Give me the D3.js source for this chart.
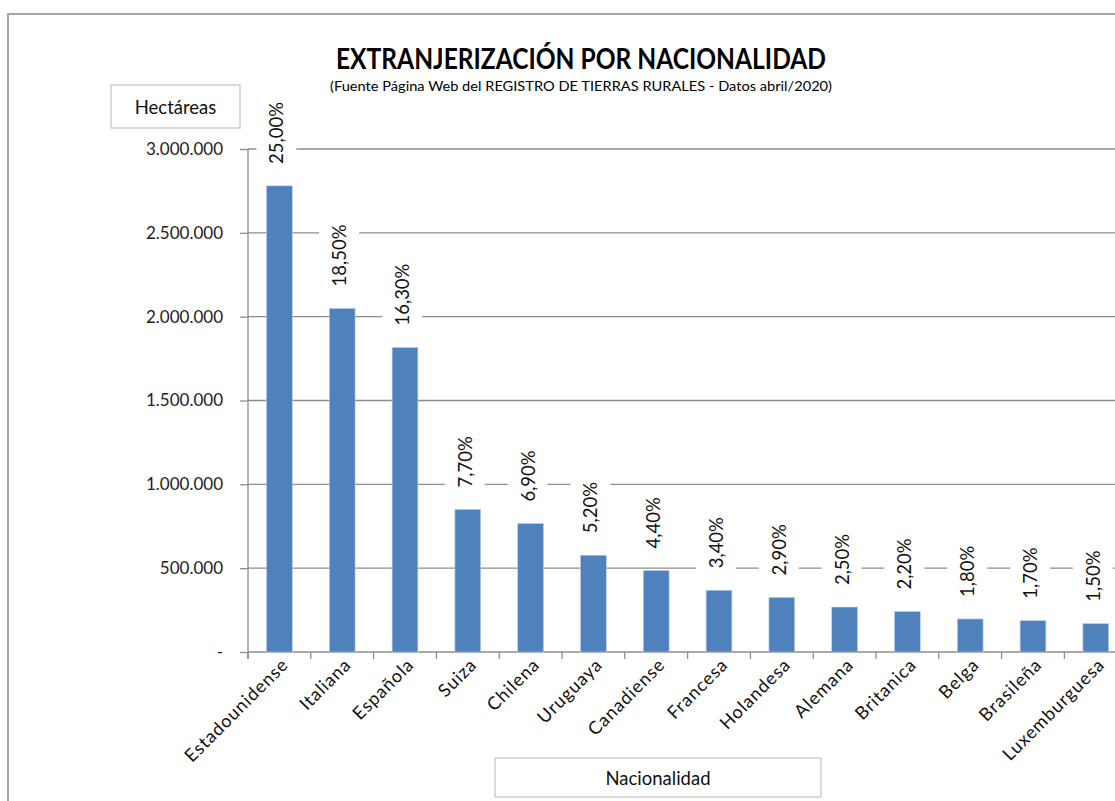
<!DOCTYPE html>
<html>
<head>
<meta charset="utf-8">
<script src="https://cdn.jsdelivr.net/npm/d3@7"></script>
<style>
  body { margin: 0; background: #fff; }
  svg { display: block; font-family: Lato, "Liberation Sans", sans-serif; }
</style>
</head>
<body>
<svg id="chart" width="1115" height="801"></svg>
<script>
// data
const categories = ['Estadounidense', 'Italiana', 'Española', 'Suiza', 'Chilena', 'Uruguaya',
  'Canadiense', 'Francesa', 'Holandesa', 'Alemana', 'Britanica', 'Belga', 'Brasileña', 'Luxemburguesa'];
const hectares = [2780000, 2049000, 1816000, 850000, 766000, 577000,
  486000, 368000, 325000, 268000, 241000, 197000, 187000, 169000];
const shares = ['25,00%', '18,50%', '16,30%', '7,70%', '6,90%', '5,20%',
  '4,40%', '3,40%', '2,90%', '2,50%', '2,20%', '1,80%', '1,70%', '1,50%'];
const yTicks = [0, 500000, 1000000, 1500000, 2000000, 2500000, 3000000];

const title = 'EXTRANJERIZACIÓN POR NACIONALIDAD';
const subtitle = '(Fuente Página Web del REGISTRO DE TIERRAS RURALES - Datos abril/2020)';

const svg = d3.select('#chart');
const plotLeft = 248, plotBottom = 652, plotTop = 149;
const step = 62.8;

const x = d3.scaleBand()
    .domain(categories)
    .range([plotLeft, plotLeft + step * categories.length])
    .paddingInner(0.59)
    .paddingOuter(0.295);

const y = d3.scaleLinear()
    .domain([0, 3000000])
    .range([plotBottom, plotTop]);

const loc = d3.formatLocale({decimal: ',', thousands: '.', grouping: [3], currency: ['', '']});
const fmt = v => v === 0 ? '-' : loc.format(',')(v);

// outer frame (only top and left show inside the window)
svg.append('path')
    .attr('d', 'M8,1200 L8,14 L1200,14')
    .attr('fill', 'none')
    .attr('stroke', '#a6a6a6')
    .attr('stroke-width', 2);

// gridlines
svg.append('g')
  .selectAll('line')
  .data(yTicks.filter(d => d > 0))
  .join('line')
    .attr('x1', plotLeft).attr('x2', 1115)
    .attr('y1', d => y(d)).attr('y2', d => y(d))
    .attr('stroke', '#8c8c8c')
    .attr('stroke-width', 1.3);

// y axis
const yAxis = svg.append('g')
    .attr('transform', `translate(${plotLeft},0)`)
    .call(d3.axisLeft(y).tickValues(yTicks).tickFormat(fmt).tickSize(8).tickPadding(17));
yAxis.select('.domain').attr('stroke', '#8c8c8c').attr('stroke-width', 1.3)
    .attr('d', `M0,${plotTop}V${plotBottom + 7}`);
yAxis.selectAll('.tick line').attr('stroke', '#8c8c8c').attr('stroke-width', 1.3);
yAxis.selectAll('.tick text')
    .attr('font-size', 17)
    .attr('fill', '#222')
    .attr('font-family', 'Lato, sans-serif');

// x axis line and boundary ticks
svg.append('line')
    .attr('x1', plotLeft).attr('x2', 1115)
    .attr('y1', plotBottom).attr('y2', plotBottom)
    .attr('stroke', '#8c8c8c').attr('stroke-width', 1.3);
svg.append('g')
  .selectAll('line')
  .data(d3.range(categories.length + 1))
  .join('line')
    .attr('x1', i => plotLeft + i * x.step()).attr('x2', i => plotLeft + i * x.step())
    .attr('y1', plotBottom).attr('y2', plotBottom + 7)
    .attr('stroke', '#8c8c8c').attr('stroke-width', 1.3);

// bars
svg.append('g')
  .selectAll('rect')
  .data(categories)
  .join('rect')
    .attr('x', d => x(d))
    .attr('y', (d, i) => y(hectares[i]))
    .attr('width', x.bandwidth())
    .attr('height', (d, i) => plotBottom - y(hectares[i]))
    .attr('fill', '#4f81bd')
    .attr('stroke', '#b9cde5')
    .attr('stroke-width', 0.6);

// percentage labels with white boxes
const lab = svg.append('g')
  .selectAll('g')
  .data(categories)
  .join('g')
    .attr('transform', (d, i) =>
      `translate(${x(d) + x.bandwidth() / 2 - 3},${y(hectares[i]) - 22}) rotate(-90)`);
lab.append('rect').attr('class', 'bg');
lab.append('text')
    .attr('font-size', 18.5)
    .attr('fill', '#111')
    .attr('dominant-baseline', 'central')
    .text((d, i) => shares[i]);
lab.each(function() {
  const g = d3.select(this);
  const w = g.select('text').node().getComputedTextLength();
  g.select('rect')
      .attr('x', -11).attr('y', -20)
      .attr('width', w + 22).attr('height', 40)
      .attr('fill', '#fff');
});

// category labels
svg.append('g')
  .selectAll('text')
  .data(categories)
  .join('text')
    .attr('transform', d => `translate(${x(d) + x.bandwidth() / 2 + 10},${plotBottom + 14}) rotate(-45)`)
    .attr('text-anchor', 'end')
    .attr('font-size', 18)
    .attr('letter-spacing', 0.9)
    .attr('fill', '#111')
    .text(d => d);

// titles
svg.append('text')
    .attr('x', 581).attr('y', 69)
    .attr('text-anchor', 'middle')
    .attr('font-size', 28)
    .attr('font-weight', 'bold')
    .attr('textLength', 490)
    .attr('lengthAdjust', 'spacingAndGlyphs')
    .attr('fill', '#000')
    .text(title);
svg.append('text')
    .attr('x', 581).attr('y', 91)
    .attr('text-anchor', 'middle')
    .attr('font-size', 13)
    .attr('textLength', 502)
    .attr('lengthAdjust', 'spacingAndGlyphs')
    .attr('fill', '#000')
    .text(subtitle);

// axis title boxes
const boxes = [
  {label: 'Hectáreas', x: 111, y: 85, w: 129, h: 43},
  {label: 'Nacionalidad', x: 495, y: 758, w: 326, h: 39}
];
const bx = svg.append('g')
  .selectAll('g')
  .data(boxes)
  .join('g');
bx.append('rect')
    .attr('x', d => d.x).attr('y', d => d.y)
    .attr('width', d => d.w).attr('height', d => d.h)
    .attr('fill', '#fff')
    .attr('stroke', '#c8c8c8')
    .attr('stroke-width', 1.3);
bx.append('text')
    .attr('x', d => d.x + d.w / 2).attr('y', d => d.y + d.h / 2)
    .attr('text-anchor', 'middle')
    .attr('dominant-baseline', 'central')
    .attr('font-size', 18.5)
    .attr('fill', '#111')
    .text(d => d.label);
</script>
</body>
</html>
